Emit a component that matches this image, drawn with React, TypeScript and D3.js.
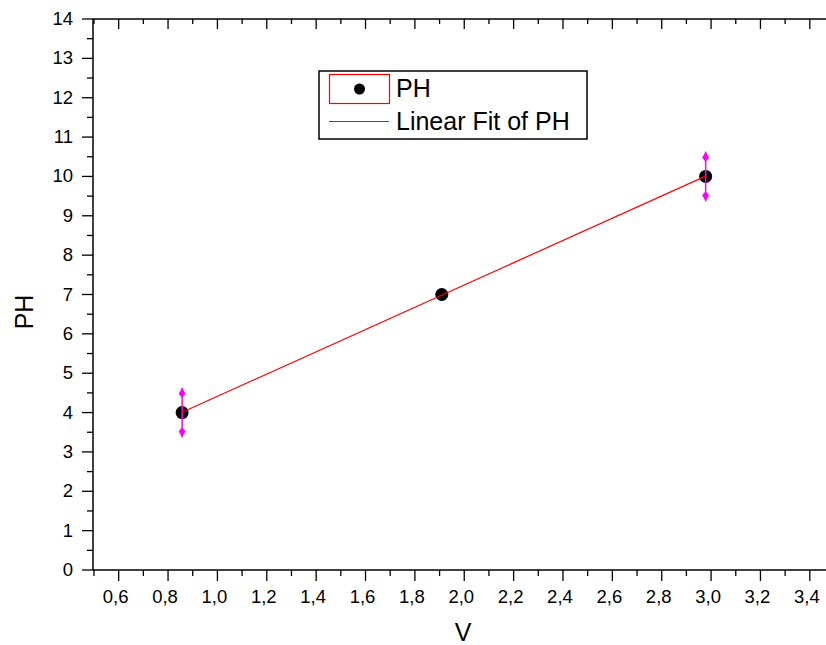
import React from "react";
import * as d3 from "d3";

const vValues = [0.857, 1.909, 2.978];
const phValues = [4, 7, 10];
const phErrors = [0.63, 0, 0.63];
const seriesName = "PH";
const fitName = "Linear Fit of PH";
const xTitle = "V";
const yTitle = "PH";
const xDomain = [0.5, 3.5];
const yDomain = [0, 14];

const W = 826;
const H = 645;
const FONT = "'Liberation Sans', Arial, sans-serif";

const x = d3.scaleLinear().domain(xDomain).range([94, 834.5]);
const y = d3.scaleLinear().domain(yDomain).range([570, 19]);

const commaLocale = d3.formatLocale({ decimal: ",", thousands: ".", grouping: [3], currency: ["", ""] });
const fmtX = commaLocale.format(".1f");

export default function App() {
  const xMajor = x.ticks(15);
  const xMinor = x.ticks(30).filter((v) => Math.round(v * 10) % 2 !== 0);
  const yMajor = y.ticks(14);
  const yMinor = y.ticks(28).filter((v) => Math.round(v * 2) % 2 !== 0);

  // linear regression
  const mx = d3.mean(vValues)!;
  const my = d3.mean(phValues)!;
  const sxy = d3.sum(vValues.map((v, i) => (v - mx) * (phValues[i] - my)));
  const sxx = d3.sum(vValues.map((v) => (v - mx) * (v - mx)));
  const slope = sxy / sxx;
  const icpt = my - slope * mx;
  const [x0, x1] = d3.extent(vValues) as [number, number];
  const fitPts: [number, number][] = [
    [x0, icpt + slope * x0],
    [x1, icpt + slope * x1],
  ];
  const fitLine = d3
    .line<[number, number]>()
    .x((d) => x(d[0]))
    .y((d) => y(d[1]))(fitPts);

  const x0px = x.range()[0] - 1;
  const x1px = x.range()[1];
  const yTop = y.range()[1];
  const yBot = y.range()[0];

  return (
    <svg
      width={W}
      height={H}
      style={{ position: "absolute", left: 0, top: 0, background: "#fff" }}
      fontFamily={FONT}
    >
      <rect x={0} y={0} width={W} height={H} fill="#fff" />
      {/* frame */}
      <g stroke="#000" strokeWidth={1.5} fill="none">
        <line x1={x0px} x2={x1px} y1={yBot} y2={yBot} />
        <line x1={x0px} x2={x1px} y1={yTop} y2={yTop} />
        <line x1={x0px} x2={x0px} y1={yTop} y2={yBot} />
      </g>
      {/* ticks */}
      <g stroke="#000" strokeWidth={1.3}>
        {xMajor.map((v) => (
          <line key={"bM" + v} x1={x(v)} x2={x(v)} y1={yBot} y2={yBot + 11} />
        ))}
        {xMinor.map((v) => (
          <line key={"bm" + v} x1={x(v)} x2={x(v)} y1={yBot} y2={yBot + 6} />
        ))}
        {xMajor.map((v) => (
          <line key={"tM" + v} x1={x(v)} x2={x(v)} y1={yTop} y2={yTop + 10} />
        ))}
        {xMinor.map((v) => (
          <line key={"tm" + v} x1={x(v)} x2={x(v)} y1={yTop} y2={yTop + 5} />
        ))}
        {yMajor.map((v) => (
          <line key={"lM" + v} x1={x0px - 11} x2={x0px} y1={y(v)} y2={y(v)} />
        ))}
        {yMinor.map((v) => (
          <line key={"lm" + v} x1={x0px - 6} x2={x0px} y1={y(v)} y2={y(v)} />
        ))}
      </g>
      {/* tick labels */}
      <g fontSize={18.5} fill="#000">
        {xMajor.map((v) => (
          <text key={"xl" + v} x={x(v) - 3} y={603} textAnchor="middle">
            {fmtX(v)}
          </text>
        ))}
        {yMajor.map((v) => (
          <text key={"yl" + v} x={73} y={y(v) + 6} textAnchor="end">
            {String(v)}
          </text>
        ))}
      </g>
      {/* axis titles */}
      <text x={463} y={641} textAnchor="middle" fontSize={25} fill="#000">
        {xTitle}
      </text>
      <text
        transform={`translate(33,312) rotate(-90)`}
        textAnchor="middle"
        fontSize={25}
        fill="#000"
      >
        {yTitle}
      </text>
      {/* points */}
      {vValues.map((v, i) => (
        <circle key={"p" + i} cx={x(v)} cy={y(phValues[i])} r={6.5} fill="#000" />
      ))}
      {/* error bars */}
      {vValues.map((v, i) => {
        if (!phErrors[i]) return null;
        const cx = x(v);
        const top = y(phValues[i] + phErrors[i]);
        const bot = y(phValues[i] - phErrors[i]);
        return (
          <g key={"e" + i}>
            <line x1={cx} x2={cx} y1={top} y2={bot} stroke="#ff00ff" strokeWidth={1.5} />
            <path
              d={`M${cx},${top} L${cx + 3.5},${top + 6} L${cx},${top + 10} L${cx - 3.5},${top + 6} Z`}
              fill="#ff00ff"
            />
            <path
              d={`M${cx},${bot} L${cx + 3.5},${bot - 6} L${cx},${bot - 10} L${cx - 3.5},${bot - 6} Z`}
              fill="#ff00ff"
            />
          </g>
        );
      })}
      {/* fit line */}
      <path d={fitLine || ""} stroke="#ff0000" strokeWidth={1.2} fill="none" />
      {/* legend */}
      <g>
        <rect x={319} y={71} width={268} height={68} fill="#fff" stroke="#000" strokeWidth={1.5} />
        <rect x={329.5} y={74.5} width={60} height={29} fill="none" stroke="#ff0000" strokeWidth={1.2} />
        <circle cx={359.5} cy={89} r={5.5} fill="#000" />
        <text x={396} y={97} fontSize={25} fill="#000">
          {seriesName}
        </text>
        <line x1={329} x2={389} y1={121.5} y2={121.5} stroke="#ff0000" strokeWidth={1.2} />
        <text x={396} y={130} fontSize={25} fill="#000">
          {fitName}
        </text>
      </g>
    </svg>
  );
}
